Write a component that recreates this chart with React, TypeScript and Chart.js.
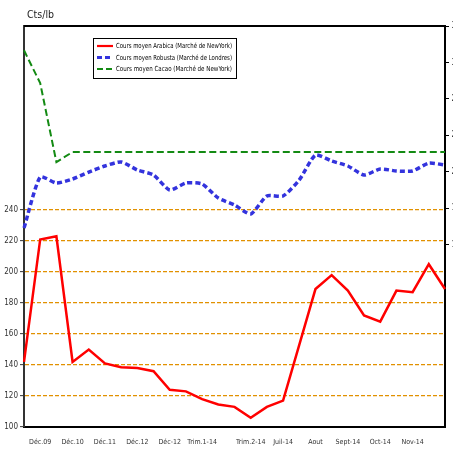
import { useEffect, useRef } from "react";
import { Chart, registerables } from "chart.js";
Chart.register(...registerables);

const FONT = "'Liberation Sans Narrow', 'Arial Narrow', 'DejaVu Sans Condensed', sans-serif";

const xLabels = [
  "", "Déc.09", "", "Déc.10", "", "Déc.11", "", "Déc.12", "", "Déc-12", "",
  "Trim.1-14", "", "", "Trim.2-14", "", "Juil-14", "", "Aout", "", "Sept-14",
  "", "Oct-14", "", "Nov-14", "", "",
];

const arabica = [
  142, 221, 223, 142, 150, 141, 138.5, 138, 136, 124, 123, 118, 114.5, 113,
  106, 113, 117, 153, 189, 198, 188, 172, 168, 188, 187, 205, 189,
];

const robusta = [
  163.7, 205.7, 200.8, 204.1, 209.8, 214.8, 218.1, 211.5, 207.4, 195, 200.8,
  200, 188.4, 182.7, 175.3, 190.1, 190.1, 203.3, 223.8, 218.9, 214.8, 207.4,
  212.3, 210.7, 210.7, 217.2, 215.6,
];

const cacao = [
  310, 283, 218, 226.3, 226.3, 226.3, 226.3, 226.3, 226.3, 226.3, 226.3,
  226.3, 226.3, 226.3, 226.3, 226.3, 226.3, 226.3, 226.3, 226.3, 226.3, 226.3,
  226.3, 226.3, 226.3, 226.3, 226.3,
];

const leftTicks = [100, 120, 140, 160, 180, 200, 220, 240];
const rightTicks = [150, 180, 210, 240, 270, 300, 330];

const seriesNames = [
  "Cours moyen Arabica (Marché de NewYork)",
  "Cours moyen Robusta (Marché de Londres)",
  "Cours moyen Cacao (Marché de NewYork)",
];
const unitLabel = "Cts/lb";

const RED = "#ff0000";
const BLUE = "#3333dd";
const GREEN = "#138a13";
const ORANGE = "rgb(225,145,0)";

const W = 480;
const H = 450;
const PLOT_RIGHT = 445;

const decor = {
  id: "decor",
  afterDraw(chart: any) {
    const { ctx, chartArea } = chart;
    ctx.save();
    // top border
    ctx.strokeStyle = "#000";
    ctx.lineWidth = 2;
    ctx.beginPath();
    ctx.moveTo(chartArea.left, chartArea.top);
    ctx.lineTo(chartArea.right + 1, chartArea.top);
    ctx.stroke();

    // unit label
    ctx.fillStyle = "#222";
    ctx.font = `10.5px ${FONT}`;
    ctx.textBaseline = "middle";
    ctx.textAlign = "left";
    ctx.fillText(unitLabel, 27, 15);

    // legend
    const lx = 93, ly = 38, lw = 143, lh = 40;
    ctx.fillStyle = "#fff";
    ctx.fillRect(lx, ly, lw, lh);
    ctx.strokeStyle = "#000";
    ctx.lineWidth = 1;
    ctx.strokeRect(lx + 0.5, ly + 0.5, lw, lh);
    const styles = [
      { c: RED, w: 2.2, d: [] as number[] },
      { c: BLUE, w: 3, d: [5, 3] },
      { c: GREEN, w: 2, d: [6, 3] },
    ];
    const rows = [46, 57.5, 69];
    seriesNames.forEach((name, i) => {
      const s = styles[i];
      ctx.strokeStyle = s.c;
      ctx.lineWidth = s.w;
      ctx.setLineDash(s.d);
      ctx.beginPath();
      ctx.moveTo(97, rows[i]);
      ctx.lineTo(113, rows[i]);
      ctx.stroke();
      ctx.setLineDash([]);
      ctx.font = `7px ${FONT}`;
      ctx.fillStyle = "#000";
      const m = ctx.measureText(name).width;
      const sx = Math.min(1, 116 / m);
      ctx.save();
      ctx.translate(116, rows[i]);
      ctx.scale(sx, 1);
      ctx.fillText(name, 0, 0.5);
      ctx.restore();
    });
    ctx.restore();
  },
};

export default function App() {
  const ref = useRef<HTMLCanvasElement>(null);
  useEffect(() => {
    const chart = new Chart(ref.current!, {
      type: "line",
      data: {
        labels: xLabels,
        datasets: [
          {
            label: seriesNames[0],
            data: arabica,
            yAxisID: "y",
            borderColor: RED,
            borderWidth: 2.5,
            pointRadius: 0,
            tension: 0,
          },
          {
            label: seriesNames[1],
            data: robusta,
            yAxisID: "y1",
            borderColor: BLUE,
            borderWidth: 3.5,
            borderDash: [5, 3],
            pointRadius: 0,
            tension: 0.2,
          },
          {
            label: seriesNames[2],
            data: cacao,
            yAxisID: "y1",
            borderColor: GREEN,
            borderWidth: 2,
            borderDash: [7, 3.5],
            pointRadius: 0,
            tension: 0,
          },
        ],
      },
      options: {
        responsive: false,
        animation: false,
        devicePixelRatio: 1,
        layout: { padding: { top: 26, left: 0, right: 0, bottom: 0 } },
        plugins: { legend: { display: false }, tooltip: { enabled: false } },
        scales: {
          x: {
            type: "category",
            offset: false,
            grid: { display: false, drawTicks: false },
            border: { display: true, color: "#000", width: 2 },
            ticks: {
              autoSkip: false,
              maxRotation: 0,
              minRotation: 0,
              padding: 11,
              color: "#333",
              font: { size: 7, family: FONT },
            },
            afterFit: (s: any) => {
              s.height = 23;
            },
          },
          y: {
            position: "left",
            min: 100,
            max: 358.7,
            afterBuildTicks: (s: any) => {
              s.ticks = leftTicks.map((v) => ({ value: v }));
            },
            grid: {
              color: (c: any) =>
                c.tick && c.tick.value === 100 ? "rgba(0,0,0,0)" : ORANGE,
              lineWidth: 1.3,
              drawTicks: true,
              tickLength: 4,
              tickColor: "#333",
              tickWidth: 1,
              tickBorderDash: [],
            },
            border: { display: true, color: "#333", width: 2, dash: [4, 2] },
            ticks: {
              padding: 2,
              color: "#333",
              font: { size: 8, family: FONT },
            },
            afterFit: (s: any) => {
              s.width = 24;
            },
          },
          y1: {
            position: "right",
            min: 0,
            max: 330,
            afterBuildTicks: (s: any) => {
              s.ticks = rightTicks.map((v) => ({ value: v }));
            },
            grid: {
              drawOnChartArea: false,
              drawTicks: true,
              tickLength: 4,
              tickColor: "#000",
              tickWidth: 1,
            },
            border: { display: true, color: "#000", width: 2 },
            ticks: {
              padding: 2.5,
              color: "#333",
              font: { size: 8, family: FONT },
            },
            afterFit: (s: any) => {
              s.width = W - PLOT_RIGHT;
            },
          },
        },
      },
      plugins: [decor],
    } as any);
    return () => chart.destroy();
  }, []);
  return (
    <div
      style={{
        position: "absolute",
        left: 0,
        top: 0,
        width: 453,
        height: 450,
        overflow: "hidden",
        background: "#fff",
      }}
    >
      <canvas
        ref={ref}
        width={W}
        height={H}
        style={{ display: "block", width: W, height: H }}
      />
    </div>
  );
}
